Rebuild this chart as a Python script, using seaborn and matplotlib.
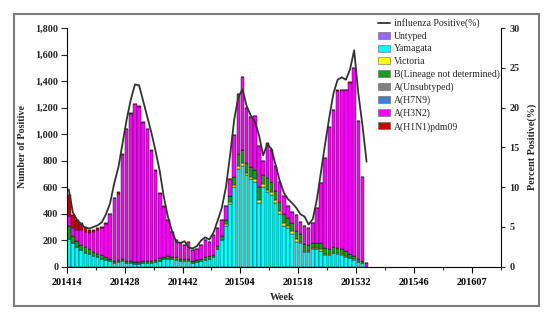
import numpy as np
import matplotlib
matplotlib.use("Agg")
import matplotlib.pyplot as plt
import seaborn as sns
from matplotlib.patches import Patch, Rectangle
from matplotlib.lines import Line2D
from matplotlib.ticker import FixedLocator, FuncFormatter

sns.set_theme(style="white")
plt.rcParams['font.family'] = ['Liberation Serif', 'DejaVu Serif']

# ---- categories (ISO weeks on the axis) ----
weeks = ([f"2014{w:02d}" for w in range(14, 53)] +
         [f"2015{w:02d}" for w in range(1, 54)] +
         [f"2016{w:02d}" for w in range(1, 14)])
tick_labels = ["201414", "201428", "201442", "201504", "201518", "201532", "201546", "201607"]

# ---- series values (weeks 201414 .. 201534) ----
yamagata = [210, 175, 150, 125, 105, 95, 80, 70, 60, 50,
            40, 30, 35, 40, 25, 25, 20, 20, 25, 25,
            30, 35, 45, 55, 60, 55, 50, 40, 40, 45,
            30, 35, 40, 50, 60, 70, 130, 200, 310, 470,
            600, 740, 760, 690, 660, 640, 480, 600, 560, 540,
            480, 400, 310, 290, 250, 190, 175, 110, 110, 135,
            130, 120, 90, 88, 100, 95, 90, 75, 62, 50,
            38, 25, 0]
victoria = [0, 0, 0, 0, 0, 0, 0, 0, 0, 0,
            0, 0, 0, 0, 0, 0, 0, 0, 0, 0,
            0, 0, 0, 0, 0, 0, 0, 0, 0, 0,
            0, 0, 0, 0, 0, 0, 0, 5, 10, 15,
            15, 20, 20, 20, 20, 20, 20, 20, 20, 25,
            20, 20, 20, 20, 20, 20, 15, 10, 10, 5,
            10, 10, 5, 5, 5, 5, 5, 5, 5, 5,
            0, 0, 0]
b_lineage_nd = [100, 55, 45, 40, 40, 35, 30, 25, 25, 20,
                20, 15, 15, 15, 15, 15, 15, 15, 15, 15,
                15, 15, 20, 20, 20, 20, 20, 15, 15, 15,
                15, 15, 15, 20, 20, 20, 25, 25, 30, 45,
                60, 90, 100, 75, 70, 70, 100, 70, 90, 70,
                70, 70, 70, 60, 60, 60, 55, 50, 40, 40,
                40, 45, 45, 40, 40, 40, 35, 35, 30, 25,
                20, 15, 0]
a_unsubtyped = [0, 0, 0, 0, 0, 0, 0, 0, 0, 0,
                0, 0, 0, 0, 0, 0, 0, 0, 0, 0,
                0, 0, 0, 0, 0, 0, 0, 0, 0, 0,
                0, 0, 0, 0, 0, 0, 0, 0, 0, 0,
                0, 0, 0, 0, 0, 0, 0, 0, 0, 0,
                0, 0, 0, 0, 0, 0, 0, 0, 0, 0,
                0, 0, 0, 0, 0, 0, 0, 0, 0, 0,
                0, 0, 0]
a_h7n9 = [0, 0, 0, 0, 0, 0, 0, 0, 0, 0,
          0, 0, 0, 0, 0, 0, 0, 0, 0, 0,
          0, 0, 0, 0, 0, 0, 0, 0, 0, 0,
          0, 0, 0, 0, 0, 0, 0, 0, 0, 0,
          0, 0, 0, 0, 0, 0, 0, 0, 0, 0,
          0, 0, 0, 0, 0, 0, 0, 0, 0, 0,
          0, 0, 0, 0, 0, 0, 0, 0, 0, 0,
          0, 0, 0]
a_h3n2 = [75, 60, 80, 110, 120, 125, 155, 185, 207, 252,
          335, 470, 495, 790, 995, 1115, 1190, 1170, 1045, 995,
          830, 675, 485, 375, 270, 190, 130, 120, 110, 125,
          80, 85, 105, 130, 110, 150, 135, 120, 110, 130,
          315, 450, 550, 415, 380, 410, 310, 110, 250, 245,
          190, 150, 130, 85, 85, 120, 95, 140, 130, 150,
          260, 453, 676, 922, 1035, 1186, 1200, 1215, 1288, 1415,
          1042, 640, 25]
a_h1n1pdm09 = [155, 100, 75, 55, 35, 20, 15, 10, 8, 8,
               5, 5, 15, 5, 5, 5, 5, 5, 5, 5,
               5, 5, 5, 5, 5, 0, 0, 0, 0, 0,
               0, 0, 0, 0, 0, 0, 0, 0, 0, 0,
               0, 0, 0, 0, 0, 0, 0, 0, 10, 0,
               0, 0, 0, 0, 0, 0, 0, 0, 0, 0,
               0, 0, 0, 0, 0, 10, 0, 0, 5, 0,
               0, 0, 0]
untyped = [0, 0, 0, 0, 0, 0, 0, 0, 0, 0,
           0, 0, 0, 0, 0, 0, 0, 0, 0, 0,
           0, 0, 0, 0, 0, 0, 0, 0, 0, 0,
           0, 0, 0, 0, 0, 0, 0, 0, 0, 0,
           0, 0, 0, 0, 0, 0, 0, 0, 0, 0,
           0, 0, 0, 0, 0, 0, 0, 0, 0, 0,
           0, 0, 0, 0, 0, 0, 0, 0, 0, 0,
           0, 0, 0]
pct_positive = [9.7, 6.8, 5.9, 5.3, 4.9, 4.8, 5.0, 5.2, 5.6, 6.6,
                8.0, 10.5, 12.5, 15.5, 18.5, 21.0, 22.9, 22.8, 20.8, 18.8,
                16.8, 14.5, 12.0, 8.7, 6.2, 4.4, 3.1, 3.0, 3.2, 2.4,
                2.3, 2.6, 3.3, 3.7, 3.4, 4.3, 5.8, 7.4, 10.0, 14.0,
                18.5, 21.3, 22.3, 20.2, 19.0, 18.2, 16.5, 14.0, 15.4, 14.8,
                12.8, 10.8, 9.3, 8.5, 8.0, 7.4, 6.6, 6.3, 5.3, 6.0,
                8.5, 12.0, 15.5, 18.8, 21.8, 23.5, 23.8, 23.5, 24.8, 27.2,
                21.8, 17.8, 13.2]

n = len(yamagata)
pos = np.arange(n)

W, H = 554, 321
fig = plt.figure(figsize=(W / 100, H / 100), dpi=100)
ax_l, ax_r, ax_t, ax_b = 66.7, 501, 28, 266.7
ax = fig.add_axes([ax_l / W, 1 - ax_b / H, (ax_r - ax_l) / W, (ax_b - ax_t) / H])

layers = [
    ("Yamagata", yamagata, "#00FFFF"),
    ("Victoria", victoria, "#FFFF00"),
    ("B(Lineage not determined)", b_lineage_nd, "#1E9A1E"),
    ("A(Unsubtyped)", a_unsubtyped, "#808080"),
    ("A(H7N9)", a_h7n9, "#3F7FD0"),
    ("A(H3N2)", a_h3n2, "#FF00FF"),
    ("A(H1N1)pdm09", a_h1n1pdm09, "#CC0000"),
    ("Untyped", untyped, "#9966FF"),
]
colors = {name: c for name, _, c in layers}

bottom = np.zeros(n)
for name, vals, col in layers:
    v = np.asarray(vals, dtype=float)
    sns.barplot(x=pos, y=v, bottom=bottom, native_scale=True, orient="x",
                width=0.85, color=col, saturation=1, edgecolor="#202020",
                linewidth=0.35, errorbar=None, ax=ax)
    bottom = bottom + v

ax.set_xlim(-0.5, 104.5)
ax.set_ylim(0, 1800)
ax.set_xlabel("")
ax.set_ylabel("")

ax2 = ax.twinx()
sns.lineplot(x=pos, y=np.asarray(pct_positive), ax=ax2, color="#333333", linewidth=1.3)
ax2.set_ylim(0, 30)
ax2.set_xlim(-0.5, 104.5)
ax2.set_xlabel("")
ax2.set_ylabel("")

# ticks
major_pos = [weeks.index(t) - 0.5 for t in tick_labels]
ax.xaxis.set_major_locator(FixedLocator(major_pos))
ax.set_xticklabels(tick_labels)
ax.xaxis.set_minor_locator(FixedLocator([k * 7 - 0.5 for k in range(16)]))
ax.yaxis.set_major_locator(FixedLocator(list(range(0, 1801, 200))))
ax.yaxis.set_major_formatter(FuncFormatter(lambda v, p: f"{int(v):,}"))
ax2.yaxis.set_major_locator(FixedLocator(list(range(0, 31, 5))))

ax.tick_params(axis="x", which="major", direction="out", length=4, width=0.8,
               labelsize=7.3, pad=4, colors="black", bottom=True)
ax.tick_params(axis="x", which="minor", direction="out", length=2.5, width=0.8, bottom=True)
ax.tick_params(axis="y", direction="out", length=4, width=0.8, labelsize=7.3, pad=2, left=True)
ax2.tick_params(axis="y", direction="out", length=3, width=0.8, labelsize=7.3, pad=3, right=True)
for lab in ax.get_xticklabels() + ax.get_yticklabels() + ax2.get_yticklabels():
    lab.set_fontweight("bold")

for a in (ax, ax2):
    a.spines["top"].set_visible(False)
    for s in ("left", "right", "bottom"):
        a.spines[s].set_color("black")
        a.spines[s].set_linewidth(0.8)
ax.spines["right"].set_visible(False)
ax2.spines["left"].set_visible(False)
ax2.spines["bottom"].set_visible(False)
ax.grid(False)
ax2.grid(False)

# axis titles
fig.text(23 / W, 1 - 147 / H, "Number of Positive", rotation=90, ha="center", va="center",
         fontsize=7.3, fontweight="bold")
fig.text(532 / W, 1 - 147 / H, "Percent Positive(%)", rotation=90, ha="center", va="center",
         fontsize=7.3, fontweight="bold")
fig.text(282 / W, 1 - 298 / H, "Week", ha="center", va="center", fontsize=7.5, fontweight="bold")

# legend
legend_order = ["Untyped", "Yamagata", "Victoria", "B(Lineage not determined)",
                "A(Unsubtyped)", "A(H7N9)", "A(H3N2)", "A(H1N1)pdm09"]
handles = [Line2D([0], [0], color="#333333", lw=1.3)]
labels = ["influenza Positive(%)"]
for name in legend_order:
    handles.append(Patch(facecolor=colors[name], edgecolor="#606060", linewidth=0.4))
    labels.append(name)
fig.legend(handles, labels, loc="upper left", bbox_to_anchor=(378 / W, 1 - 18.5 / H),
           frameon=False, fontsize=7, handlelength=1.2, handleheight=0.75,
           handletextpad=0.45, labelspacing=0.36, borderaxespad=0, borderpad=0)

# outer frame
fig.add_artist(Rectangle((14 / W, 1 - 306 / H), (539 - 14) / W, (306 - 14) / H,
                         transform=fig.transFigure, fill=False, edgecolor="#7a7a7a",
                         linewidth=1.5))

fig.savefig("out.png", dpi=100)
